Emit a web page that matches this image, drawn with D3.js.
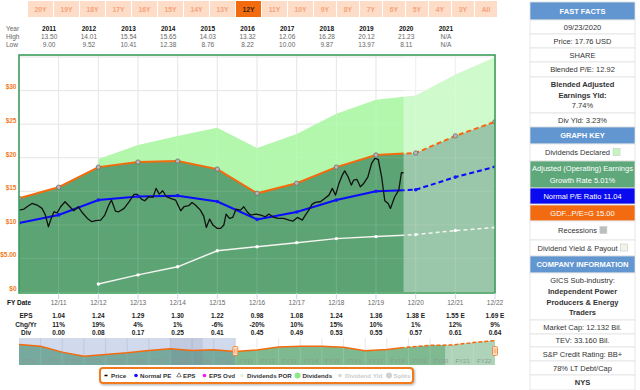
<!DOCTYPE html>
<html><head><meta charset="utf-8">
<script src="https://cdn.jsdelivr.net/npm/d3@7"></script>
<style>body{margin:0;background:#fff;} svg{display:block;font-family:"Liberation Sans",Arial,sans-serif;}</style>
</head><body><svg id="c" width="640" height="390"></svg>
<script>
// ---------------- DATA ----------------
const rangeButtons = ["20Y","19Y","18Y","17Y","16Y","15Y","14Y","13Y","12Y","11Y","10Y","9Y","8Y","7Y","6Y","5Y","4Y","3Y","All"];
const selectedRange = "12Y";
const hlYears = [2011,2012,2013,2014,2015,2016,2017,2018,2019,2020,2021];
const highs = ["13.50","14.01","15.54","15.65","14.03","13.32","12.06","16.28","20.12","21.23","N/A"];
const lows  = ["9.00","9.52","10.41","12.38","8.76","8.22","10.00","9.87","13.97","8.11","N/A"];
const fyYears = [2010,2011,2012,2013,2014,2015,2016,2017,2018,2019,2020,2021,2022];
const eps = [0.93,1.04,1.24,1.29,1.30,1.22,0.98,1.08,1.24,1.36,1.38,1.55,1.69];
const tableYears = [2011,2012,2013,2014,2015,2016,2017,2018,2019,2020,2021,2022];
const fyLabels = ["12/11","12/12","12/13","12/14","12/15","12/16","12/17","12/18","12/19","12/20","12/21","12/22"];
const epsLabels = ["1.04","1.24","1.29","1.30","1.22","0.98","1.08","1.24","1.36","1.38 E","1.55 E","1.69 E"];
const chgYr = ["11%","19%","4%","1%","-6%","-20%","10%","15%","10%","1%","12%","9%"];
const divs = [0.00,0.08,0.17,0.25,0.41,0.45,0.49,0.53,0.55,0.57,0.61,0.64];
const histYears = [2000,2001,2002,2003,2004,2005,2006,2007,2008,2009];
const histEps = [1.41,1.30,0.89,0.61,0.73,0.84,1.00,1.12,1.00,1.05];
const navLabels = ["FY01","FY02","FY03","FY04","FY05","FY06","FY07","FY08","FY09","FY10","FY11","FY12","FY13","FY14","FY15","FY16","FY17","FY18","FY19","FY20","FY21","FY22"];
const yTicks = [0,5,10,15,20,25,30];
const yTickLabels = ["$0","$5.00","$10","$15","$20","$25","$30"];
const normalPE = 11.04, gdfPE = 15;
const asOf = "2020-09-10";
const recessions = [["2007-12-31","2009-06-30"]];
const priceDates = ["2010-12-31","2011-02-15","2011-03-15","2011-04-30","2011-06-15","2011-07-31","2011-08-31","2011-09-28","2011-10-18","2011-11-18","2011-12-18","2012-01-18","2012-02-28","2012-04-03","2012-05-18","2012-06-28","2012-08-06","2012-09-21","2012-10-31","2012-12-06","2013-01-21","2013-02-28","2013-04-06","2013-04-30","2013-06-06","2013-07-06","2013-08-25","2013-10-09","2013-11-24","2013-12-24","2014-02-03","2014-03-03","2014-04-09","2014-05-18","2014-06-15","2014-07-15","2014-08-15","2014-09-18","2014-10-28","2014-12-12","2015-01-28","2015-02-27","2015-04-12","2015-05-12","2015-06-12","2015-07-28","2015-08-28","2015-09-21","2015-10-21","2015-11-21","2015-12-31","2016-01-31","2016-02-29","2016-03-21","2016-04-21","2016-05-21","2016-06-21","2016-07-31","2016-08-31","2016-09-30","2016-10-31","2016-12-24","2017-02-03","2017-03-18","2017-04-18","2017-06-03","2017-07-18","2017-09-03","2017-10-21","2017-11-28","2018-01-06","2018-02-21","2018-03-21","2018-04-21","2018-05-21","2018-06-21","2018-08-06","2018-09-15","2018-10-24","2018-11-24","2018-12-24","2019-01-24","2019-02-24","2019-03-18","2019-04-18","2019-05-18","2019-06-09","2019-07-09","2019-08-09","2019-09-09","2019-10-18","2019-11-21","2019-12-21","2020-01-21","2020-02-21","2020-03-21","2020-04-21","2020-05-12","2020-06-21","2020-07-28","2020-08-21","2020-09-10"];
const priceValues = [12.20,12.35,12.70,13.19,12.95,12.45,11.46,9.72,10.71,11.95,11.80,12.70,13.44,12.85,12.10,12.70,11.80,10.96,10.47,10.62,10.71,11.46,12.95,13.69,12.05,11.95,12.45,13.44,14.53,14.53,13.79,13.59,14.19,14.09,15.43,14.58,15.08,14.19,13.94,13.69,12.10,12.70,12.85,13.34,12.95,12.20,11.31,9.62,10.86,9.97,9.47,9.47,9.97,11.61,10.96,11.11,12.35,12.20,12.70,11.95,11.46,11.61,11.46,11.21,11.61,11.11,10.96,10.96,10.71,10.57,11.11,10.71,11.46,12.20,13.05,13.34,13.44,13.94,14.43,15.43,14.43,16.17,17.41,18.05,17.16,15.92,16.67,16.77,15.67,16.17,17.16,19.15,19.89,19.74,17.16,13.59,13.19,12.45,14.19,15.18,17.76,17.76];
const factRows = [
  {y0:2,y1:20,kind:"head",lines:[["FAST FACTS",1]]},
  {y0:20,y1:34,lines:[["09/23/2020",0]]},
  {y0:34,y1:48,lines:[["Price: 17.76 USD",0]]},
  {y0:48,y1:62,lines:[["SHARE",0]]},
  {y0:62,y1:77,lines:[["Blended P/E: 12.92",0]]},
  {y0:77,y1:113,lines:[["Blended Adjusted",1],["Earnings Yld:",1],["7.74%",0]]},
  {y0:113,y1:127,lines:[["Div Yld: 3.23%",0]]},
  {y0:127,y1:144,kind:"head",lines:[["GRAPH KEY",1]]},
  {y0:144,y1:161,lines:[["Dividends Declared",0]],sq:"#c3f7bd"},
  {y0:161,y1:188,bg:"#5fa87b",color:"#fff",lines:[["Adjusted (Operating) Earnings",0],["Growth Rate 5.01%",0]]},
  {y0:188,y1:204,bg:"#0a0af0",color:"#fff",lines:[["Normal P/E Ratio 11.04",0]]},
  {y0:205,y1:221,bg:"#f26b10",color:"#fff",lines:[["GDF...P/E=G 15.00",0]]},
  {y0:221,y1:240,lines:[["Recessions",0]],sq:"#bdbdbd"},
  {y0:240,y1:256,lines:[["Dividend Yield & Payout",0]],sq:"#eef6e8"},
  {y0:256,y1:273,kind:"head",lines:[["COMPANY INFORMATION",1]]},
  {y0:273,y1:320,lines:[["GICS Sub-industry:",0],["Independent Power",1],["Producers & Energy",1],["Traders",1]]},
  {y0:320,y1:334,lines:[["Market Cap: 12.132 Bil.",0]]},
  {y0:334,y1:347,lines:[["TEV: 33.160 Bil.",0]]},
  {y0:347,y1:361,lines:[["S&P Credit Rating: BB+",0]]},
  {y0:361,y1:375,lines:[["78% LT Debt/Cap",0]]},
  {y0:375,y1:390,lines:[["NYS",1]]}
];
const legendItems = [
  {name:"Price",sym:"dash",color:"#000",tx:111,sx:106},
  {name:"Normal PE",sym:"dot",color:"#1010ff",tx:140,sx:136},
  {name:"EPS",sym:"tri",color:"#666",tx:183,sx:179},
  {name:"EPS Ovd",sym:"dot",color:"#ff10ff",tx:209,sx:204.5},
  {name:"Dividends POR",sym:"dot",color:"#e4f4dc",tx:247,sx:242},
  {name:"Dividends",sym:"big",color:"#8ee88a",tx:302.5,sx:297.5},
  {name:"Dividend Yld",sym:"dot",color:"#d8d8d8",tx:345,sx:340,off:true},
  {name:"Splits",sym:"big",color:"#d0d0d0",tx:393.5,sx:389,off:true}
];

// ---------------- DRAW ----------------
const svg = d3.select("#c");
const P = d3.timeParse("%Y-%m-%d");
const ye = yr => new Date(yr, 11, 31);
const X0 = 19, X1 = 495, YT = 55, YB = 292;
const x = d3.scaleTime().domain([ye(2010), ye(2022)]).range([X0, X1]);
const y = d3.scaleLinear().domain([0, 35.3]).range([YB, YT]);
const xb = x(P(asOf));
const FS = 6.5;

const defs = svg.append("defs");
defs.append("clipPath").attr("id","past").append("rect").attr("x",0).attr("y",0).attr("width",xb).attr("height",390);
defs.append("clipPath").attr("id","fut").append("rect").attr("x",xb).attr("y",0).attr("width",640-xb).attr("height",390);
defs.append("clipPath").attr("id","plot").append("rect").attr("x",X0).attr("y",YT).attr("width",X1-X0).attr("height",YB-YT+1);
const f = defs.append("filter").attr("id","sh").attr("x","-5%").attr("y","-40%").attr("width","110%").attr("height","200%");
f.append("feDropShadow").attr("dx",1).attr("dy",1.2).attr("stdDeviation",1.1).attr("flood-color","#000").attr("flood-opacity",0.3);

// range buttons
let bx = 28;
rangeButtons.forEach(b => {
  const w = (b.length === 3 && b.endsWith("Y")) ? 25 : 22;
  const sel = b === selectedRange;
  svg.append("rect").attr("x",bx).attr("y",1).attr("width",w).attr("height",16)
    .attr("fill", sel ? "#f26b0f" : "#fddcc8");
  svg.append("text").attr("x",bx+w/2).attr("y",11.8).attr("text-anchor","middle")
    .attr("font-size",6.8).attr("font-weight","bold").attr("fill", sel ? "#3b2414" : "#f5a47a").text(b);
  bx += w + 1;
});

// High / Low table
[["Year",30.5],["High",39],["Low",46.8]].forEach(([t,yy]) =>
  svg.append("text").attr("x",6).attr("y",yy).attr("font-size",FS).attr("fill","#666").text(t));
hlYears.forEach((yr,i) => {
  const cx = x(ye(yr)) - 9.5;
  svg.append("text").attr("x",cx).attr("y",30.5).attr("text-anchor","middle").attr("font-size",FS).attr("font-weight","bold").attr("fill","#111").text(yr);
  svg.append("text").attr("x",cx).attr("y",39).attr("text-anchor","middle").attr("font-size",FS).attr("fill","#666").text(highs[i]);
  svg.append("text").attr("x",cx).attr("y",46.8).attr("text-anchor","middle").attr("font-size",FS).attr("fill","#666").text(lows[i]);
});

// gridlines
const g = svg.append("g");
[5,10,15,20,25,30,35].forEach(v => g.append("line").attr("x1",X0).attr("x2",X1).attr("y1",y(v)).attr("y2",y(v)).attr("stroke","#e3e3e3").attr("stroke-width",1));
tableYears.forEach(yr => g.append("line").attr("x1",x(ye(yr))).attr("x2",x(ye(yr))).attr("y1",YT).attr("y2",YB).attr("stroke","#e3e3e3").attr("stroke-width",1));

// data objects
const epsPts = fyYears.map((yr,i) => ({d: ye(yr), v: eps[i]}));
const divPts = tableYears.map((yr,i) => ({d: ye(yr), e: eps[i+1], dv: divs[i]})).filter(p => p.dv > 0);

// areas
const plotG = svg.append("g").attr("clip-path","url(#plot)");
plotG.append("path").datum(divPts)
  .attr("d", d3.area().x(p => x(p.d)).y0(p => y(p.e*gdfPE)).y1(p => y(p.e*gdfPE + p.dv*gdfPE)))
  .attr("fill","#b2f7ac");
plotG.append("path").datum(epsPts)
  .attr("d", d3.area().x(p => x(p.d)).y0(y(0)).y1(p => y(p.v*gdfPE)))
  .attr("fill","#5ca474");
[5,10,15,20,25,30].forEach(v => plotG.append("line").attr("x1",X0).attr("x2",X1).attr("y1",y(v)).attr("y2",y(v)).attr("stroke","#fff").attr("stroke-opacity",0.1));
tableYears.forEach(yr => plotG.append("line").attr("x1",x(ye(yr))).attr("x2",x(ye(yr))).attr("y1",YT).attr("y2",YB).attr("stroke","#fff").attr("stroke-opacity",0.14));
plotG.append("rect").attr("x",xb).attr("y",YT).attr("width",X1-xb).attr("height",YB-YT+1).attr("fill","#fff").attr("opacity",0.38);

function twoPart(data, gen, color, width, dash) {
  plotG.append("path").datum(data).attr("d",gen).attr("fill","none").attr("stroke",color).attr("stroke-width",width).attr("clip-path","url(#past)");
  plotG.append("path").datum(data).attr("d",gen).attr("fill","none").attr("stroke",color).attr("stroke-width",width).attr("stroke-dasharray",dash).attr("clip-path","url(#fut)");
}
twoPart(divPts, d3.line().x(p => x(p.d)).y(p => y(p.dv*gdfPE)), "#f4f4f0", 1.5, "4,3");
twoPart(epsPts, d3.line().x(p => x(p.d)).y(p => y(p.v*normalPE)), "#0a0aff", 2, "5,3");
twoPart(epsPts, d3.line().x(p => x(p.d)).y(p => y(p.v*gdfPE)), "#f46a0c", 2, "5,3");

const priceData = priceDates.map((d,i) => ({d: P(d), v: priceValues[i]}));
plotG.append("path").datum(priceData).attr("d", d3.line().x(p => x(p.d)).y(p => y(p.v)))
  .attr("fill","none").attr("stroke","#111").attr("stroke-width",1.3).attr("stroke-linejoin","round");

divPts.forEach(p => plotG.append("circle").attr("cx",x(p.d)).attr("cy",y(p.dv*gdfPE)).attr("r",1.7).attr("fill","#fff"));
epsPts.forEach(p => plotG.append("circle").attr("cx",x(p.d)).attr("cy",y(p.v*normalPE)).attr("r",1.8).attr("fill","#1515ff"));
epsPts.forEach(p => plotG.append("circle").attr("cx",x(p.d)).attr("cy",y(p.v*gdfPE)).attr("r",2.2).attr("fill","#b8b8b8").attr("stroke","#6c6c6c").attr("stroke-width",0.8));

svg.append("rect").attr("x",X0).attr("y",YT).attr("width",X1-X0).attr("height",YB-YT+1).attr("fill","none").attr("stroke","#3c9d5b").attr("stroke-width",1.6);

yTicks.forEach((v,i) => svg.append("text").attr("x",16.5).attr("y",y(v)-1.2).attr("text-anchor","end")
  .attr("font-size",FS).attr("font-weight","bold").attr("fill","#f07a1e").text(yTickLabels[i]));

tableYears.forEach((yr,i) => {
  const cx = x(ye(yr));
  svg.append("line").attr("x1",cx).attr("x2",cx).attr("y1",YB+1).attr("y2",YB+7).attr("stroke","#ccd6eb");
  svg.append("text").attr("x",cx).attr("y",305.3).attr("text-anchor","middle").attr("font-size",FS).attr("fill","#666").text(fyLabels[i]);
  svg.append("text").attr("x",cx).attr("y",318.3).attr("text-anchor","middle").attr("font-size",FS).attr("font-weight","bold").attr("fill","#222").text(epsLabels[i]);
  svg.append("text").attr("x",cx).attr("y",326.5).attr("text-anchor","middle").attr("font-size",FS).attr("font-weight","bold").attr("fill","#222").text(chgYr[i]);
  svg.append("text").attr("x",cx).attr("y",334.6).attr("text-anchor","middle").attr("font-size",FS).attr("font-weight","bold").attr("fill","#222").text(divs[i].toFixed(2));
});
svg.append("text").attr("x",7).attr("y",305.3).attr("font-size",FS).attr("font-weight","bold").attr("fill","#111").text("FY Date");
[["EPS",318.3],["Chg/Yr",326.5],["Div",334.6]].forEach(([t,yy]) =>
  svg.append("text").attr("x",26).attr("y",yy).attr("text-anchor","middle").attr("font-size",FS).attr("font-weight","bold").attr("fill","#222").text(t));

// ---------------- NAVIGATOR ----------------
const NT = 338, NB = 365;
const nx = d3.scaleTime().domain([ye(2000), ye(2022)]).range([X0, X1]);
const ny = d3.scaleLinear().domain([0, 28]).range([NB, NT]);
const nxb = nx(P(asOf));
const navPts = histYears.concat(fyYears).map((yr,i) => ({d: ye(yr), v: histEps.concat(eps)[i]*gdfPE}));
const ng = svg.append("g");
d3.range(2001, 2022).forEach(yr => ng.append("line").attr("x1",nx(ye(yr))).attr("x2",nx(ye(yr))).attr("y1",NT).attr("y2",NB).attr("stroke","#e6e6e6"));
ng.append("path").datum(navPts).attr("d", d3.area().x(p => nx(p.d)).y0(NB).y1(p => ny(p.v))).attr("fill","#7eb98f");
d3.range(2001, 2022).forEach(yr => ng.append("line").attr("x1",nx(ye(yr))).attr("x2",nx(ye(yr))).attr("y1",NT).attr("y2",NB).attr("stroke","#fff").attr("stroke-opacity",0.15));
ng.append("rect").attr("x",nxb).attr("y",NT).attr("width",X1-nxb).attr("height",NB-NT).attr("fill","#fff").attr("opacity",0.38);
recessions.forEach(([a,b]) => ng.append("rect").attr("x",nx(P(a))).attr("y",NT).attr("width",nx(P(b))-nx(P(a))).attr("height",NB-NT).attr("fill","#6d6d80").attr("opacity",0.16));
ng.append("rect").attr("x",X0).attr("y",NT).attr("width",nx(ye(2010))-X0).attr("height",NB-NT).attr("fill","rgba(102,133,194,0.3)");
const nLine = d3.line().x(p => nx(p.d)).y(p => ny(p.v));
ng.append("path").datum(navPts).attr("d",nLine).attr("fill","none").attr("stroke","#f46a0c").attr("stroke-width",1.5).attr("clip-path","url(#past)");
ng.append("path").datum(navPts).attr("d",nLine).attr("fill","none").attr("stroke","#f46a0c").attr("stroke-width",1.5).attr("stroke-dasharray","4,2").attr("clip-path","url(#fut)");
navLabels.forEach((t,i) => ng.append("text").attr("x",nx(ye(2000+i)) + (nx(ye(2001+i))-nx(ye(2000+i)))/2).attr("y",362.5)
  .attr("text-anchor","middle").attr("font-size",6).attr("fill","#8c9a90").text(t));
[nx(ye(2010)), X1].forEach(hx => {
  ng.append("rect").attr("x",hx-2.5).attr("y",346.5).attr("width",5).attr("height",9).attr("rx",1).attr("fill","#fbe3d2").attr("stroke","#f07a1e").attr("stroke-width",0.8);
  ng.append("line").attr("x1",hx-0.8).attr("x2",hx-0.8).attr("y1",348.5).attr("y2",353.5).attr("stroke","#f07a1e").attr("stroke-width",0.5);
  ng.append("line").attr("x1",hx+0.8).attr("x2",hx+0.8).attr("y1",348.5).attr("y2",353.5).attr("stroke","#f07a1e").attr("stroke-width",0.5);
});

// ---------------- LEGEND ----------------
svg.append("rect").attr("x",100).attr("y",368).attr("width",313).attr("height",15).attr("rx",3)
  .attr("fill","#fff").attr("stroke","#f07a1e").attr("stroke-width",2).attr("filter","url(#sh)");
const LY = 375.5;
legendItems.forEach(it => {
  if (it.sym === "dash") svg.append("line").attr("x1",it.sx-1.5).attr("x2",it.sx+1.5).attr("y1",LY).attr("y2",LY).attr("stroke",it.color).attr("stroke-width",1.5);
  else if (it.sym === "tri") svg.append("path").attr("d",d3.symbol(d3.symbolTriangle,9)()).attr("transform",`translate(${it.sx},${LY})`).attr("fill","none").attr("stroke",it.color).attr("stroke-width",0.8);
  else svg.append("circle").attr("cx",it.sx).attr("cy",LY).attr("r",it.sym==="big"?3:1.8).attr("fill",it.color);
  svg.append("text").attr("x",it.tx).attr("y",LY+2.2).attr("font-size",6.2).attr("font-weight","bold").attr("fill",it.off?"#cccccc":"#333").text(it.name);
});

// ---------------- FACT PANEL ----------------
const PX0 = 530, PX1 = 635, PCX = (PX0+PX1)/2;
const pg = svg.append("g");
factRows.forEach(r => {
  const bg = r.kind === "head" ? "#6196d1" : (r.bg || "#fff");
  pg.append("rect").attr("x",PX0).attr("y",r.y0).attr("width",PX1-PX0).attr("height",r.y1-r.y0).attr("fill",bg).attr("stroke","#e2e2e2").attr("stroke-width",0.8);
  const col = r.kind === "head" ? "#fff" : (r.color || "#333");
  const n = r.lines.length, lh = n > 1 ? (r.y1-r.y0-4)/n : 0;
  const mid = (r.y0+r.y1)/2;
  r.lines.forEach(([t,b],i) => {
    const cy = n > 1 ? r.y0 + 2 + lh*(i+0.5) : mid;
    const tx = pg.append("text").attr("x",PCX).attr("y",cy+2.7).attr("text-anchor","middle")
      .attr("font-size",7.5).attr("font-weight",b?"bold":"normal").attr("fill",col).text(t);
    if (r.sq) {
      const w = tx.node().getComputedTextLength();
      const left = PCX - (w + 10)/2;
      tx.attr("text-anchor","start").attr("x",left);
      pg.append("rect").attr("x",left+w+3).attr("y",cy-4).attr("width",7).attr("height",7).attr("fill",r.sq).attr("stroke","#c8c8c8").attr("stroke-width",0.6);
    }
  });
});
</script></body></html>
